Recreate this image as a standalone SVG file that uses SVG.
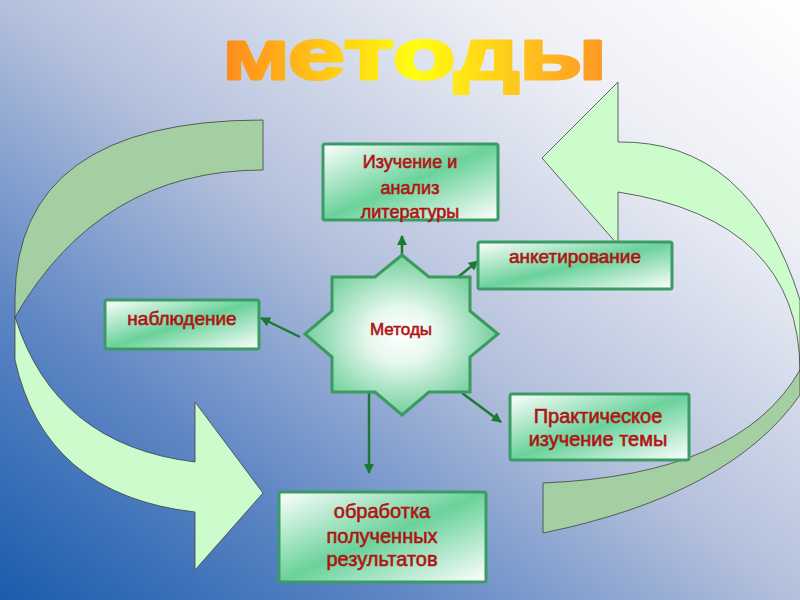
<svg xmlns="http://www.w3.org/2000/svg" width="800" height="600" viewBox="0 0 800 600">
<defs>
<linearGradient id="bg" x1="0" y1="1" x2="1" y2="0">
<stop offset="0" stop-color="#1a5cac"/>
<stop offset="0.25" stop-color="#5e86c4"/>
<stop offset="0.5" stop-color="#b4c0dc"/>
<stop offset="0.8" stop-color="#eef0f6"/>
<stop offset="1" stop-color="#ffffff"/>
</linearGradient>
<linearGradient id="title" gradientUnits="userSpaceOnUse" x1="223" y1="0" x2="608" y2="0">
<stop offset="0" stop-color="#ff8a1e"/>
<stop offset="0.5" stop-color="#ffff10"/>
<stop offset="1" stop-color="#ff9426"/>
</linearGradient>
<linearGradient id="box" x1="0" y1="0" x2="1" y2="1">
<stop offset="0" stop-color="#ffffff"/>
<stop offset="0.5" stop-color="#6ad29a"/>
<stop offset="1" stop-color="#ffffff"/>
</linearGradient>
<radialGradient id="star" cx="0.5" cy="0.5" r="0.5">
<stop offset="0" stop-color="#ffffff"/>
<stop offset="0.35" stop-color="#e6f8ee"/>
<stop offset="1" stop-color="#72d09c"/>
</radialGradient>
<marker id="ah" viewBox="0 0 10 10" refX="9" refY="5" markerWidth="4" markerHeight="4" orient="auto" markerUnits="strokeWidth">
<path d="M0,0 L10,5 L0,10 Z" fill="#1a7a30"/>
</marker>
<style>
.light{fill:#ccfccc;stroke:#404040;stroke-width:0.8}
.dark{fill:#a3cfa3;stroke:#404040;stroke-width:0.8}
.box{fill:url(#box);stroke:#3a9c64;stroke-width:3}
.t{font-family:"Liberation Sans",Arial,sans-serif;fill:#b01414;stroke:#b01414;stroke-width:0.6;text-anchor:middle}
.c{stroke:#1a7a30;stroke-width:2.5;fill:none;marker-end:url(#ah)}
</style>
</defs>
<rect width="800" height="600" fill="url(#bg)"/>
<g id="title-text">
<text x="224" y="79" textLength="383" lengthAdjust="spacingAndGlyphs" font-family="Liberation Sans, Arial, sans-serif" font-weight="bold" fill="url(#title)" stroke="url(#title)" stroke-width="3" stroke-linejoin="round"><tspan font-size="54">М</tspan><tspan font-size="72">етоды</tspan></text>
</g>
<g id="left-arrow">
<path class="dark" d="M263,120 Q15,120 15,300 L15,317 Q100,170 263,170 Z"/>
<path class="light" d="M15,317 Q55,445 195,462 L195,402 L263,493 L195,570 L195,512 Q45,495 15,360 Z"/>
</g>
<g id="right-arrow">
<path class="dark" d="M543,483 Q740,475 800,370 L800,395 Q730,495 543,533 Z"/>
<path class="light" d="M542,158 L618,82 L618,142 Q750,140 800,300 L800,372 Q800,220 618,192 L618,245 Z"/>
</g>
<g id="connectors">
<line class="c" x1="402" y1="255" x2="402" y2="236"/>
<line class="c" x1="453" y1="281" x2="478" y2="261"/>
<line class="c" x1="300" y1="337" x2="261" y2="318"/>
<line class="c" x1="462" y1="393" x2="501" y2="422"/>
<line class="c" x1="369" y1="392" x2="369" y2="473"/>
</g>
<g id="node-center">
<polygon points="402,255 429,277 470,277 470,311 498,334 470,357 470,392 429,392 402,415 375,392 332,392 332,357 305,334 332,311 332,277 375,277" fill="url(#star)" stroke="#3a9a60" stroke-width="3" stroke-linejoin="miter"/>
<text class="t" x="401" y="335" font-size="17">Методы</text>
</g>
<g id="node-literature">
<rect class="box" x="323" y="144" width="175" height="76" rx="2"/>
<text class="t" x="410" y="168" font-size="18">Изучение и</text>
<text class="t" x="410" y="194" font-size="18">анализ</text>
<text class="t" x="410" y="218" font-size="18">литературы</text>
</g>
<g id="node-survey">
<rect class="box" x="478" y="242" width="194" height="47" rx="2"/>
<text class="t" x="575" y="263" font-size="19">анкетирование</text>
</g>
<g id="node-observation">
<rect class="box" x="105" y="300" width="154" height="49" rx="2"/>
<text class="t" x="182" y="325" font-size="19">наблюдение</text>
</g>
<g id="node-practical">
<rect class="box" x="510" y="394" width="179" height="66" rx="2"/>
<text class="t" x="598" y="423" font-size="20">Практическое</text>
<text class="t" x="598" y="446" font-size="20">изучение темы</text>
</g>
<g id="node-processing">
<rect class="box" x="279" y="492" width="207" height="90" rx="2"/>
<text class="t" x="382" y="518" font-size="20">обработка</text>
<text class="t" x="382" y="543" font-size="20">полученных</text>
<text class="t" x="382" y="566" font-size="20">результатов</text>
</g>
</svg>
